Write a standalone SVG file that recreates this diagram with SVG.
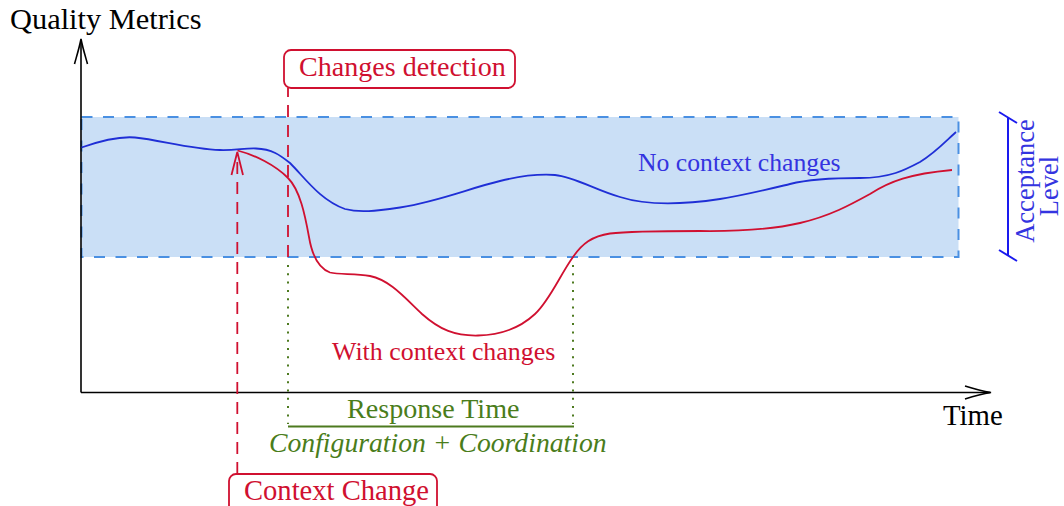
<svg xmlns="http://www.w3.org/2000/svg" width="1064" height="506" viewBox="0 0 1064 506">
  <style>
    .serif { font-family: "Liberation Serif", "Times New Roman", serif; }
    .axis { stroke: #000; stroke-width: 1.6; fill: none; }
    .red { stroke: #d01030; fill: none; }
    .redtxt { fill: #d01030; }
    .green { stroke: #4d7a1f; fill: none; }
    .greentxt { fill: #4a7d1b; }
    .bluetxt { fill: #3434e0; }
  </style>

  <rect width="1064" height="506" fill="#ffffff"/>

  <!-- acceptance band -->
  <g id="acceptance-band">
    <rect x="81.5" y="117" width="877" height="140" fill="#cadff6" stroke="#4a90e2" stroke-width="2" stroke-dasharray="11 10.5"/>
  </g>

  <!-- axes -->
  <g id="axes">
    <line class="axis" x1="81" y1="392.5" x2="81" y2="40"/>
    <path class="axis" d="M74.5,64 C77,55 79.5,47 81,39 C82.5,47 85,55 87.5,64"/>
    <line class="axis" x1="81" y1="392.5" x2="990" y2="392.5"/>
    <path class="axis" d="M965,386 C973,388.5 982,391 991,392.5 C982,394 973,396.5 965,399"/>
    <text class="serif" x="10" y="29" font-size="30.4">Quality Metrics</text>
    <text class="serif" x="943" y="425" font-size="28.8">Time</text>
  </g>

  <!-- curves -->
  <g id="curves">
    <path id="no-context-curve" fill="none" stroke="#1f2fd6" stroke-width="1.8"
      d="M81.5,147.5 C100,141 118,136 135,137.5 C160,140 190,149 220,150 C235,150.5 245,148 256,148.5 C272,149 280,155 290,163 C305,178 320,200 345,209 C360,213 375,211 400,207.5 C440,201 470,188 500,181 C520,176 540,174 555,175 C575,177 595,190 620,197 C645,205 680,205 720,199 C745,195 765,190 790,184 C810,179 830,178 860,178 C890,178 905,170 920,162 C935,153 946,141 956,132"/>
    <path id="with-context-curve" class="red" stroke-width="1.8"
      d="M237.5,150.5 C255,155 275,165 288,178 C300,190 305,215 309,237 C312,255 318,268 330,272.5 C340,275 355,273 370,276 C390,280 405,298 422,314 C440,330 455,336 478,335.5 C500,335 520,328 535,314 C550,300 560,275 573,257 C582,244 592,236 610,233.5 C630,231 660,231 700,231 C740,231.5 770,230 800,223 C830,216 850,205 870,194 C890,181 910,174 952,170"/>
    <text class="serif bluetxt" x="638" y="171" font-size="25.7">No context changes</text>
    <text class="serif redtxt" x="332" y="360" font-size="25.9">With context changes</text>
  </g>

  <!-- connectors -->
  <g id="connectors">
    <line class="red" stroke-width="1.8" stroke-dasharray="12 8" x1="237.3" y1="474" x2="237.3" y2="155"/>
    <path class="red" stroke-width="1.8" d="M231.5,175 C233.5,167 235.5,159 237.3,152 C239,159 241,167 243,175"/>
    <line class="red" stroke-width="1.8" stroke-dasharray="12 8" x1="288" y1="257" x2="288" y2="88"/>
    <line class="green" stroke-width="2" stroke-dasharray="2 6.3" x1="288" y1="265" x2="288" y2="424"/>
    <line class="green" stroke-width="2" stroke-dasharray="2 6.3" x1="573" y1="265" x2="573" y2="424"/>
    <line class="green" stroke-width="2" x1="288" y1="426.5" x2="574" y2="426.5"/>
  </g>

  <!-- response time labels -->
  <g id="response-time">
    <text class="serif greentxt" x="347" y="418" font-size="28.1">Response Time</text>
    <text class="serif greentxt" x="269" y="451.5" font-size="27.7" font-style="italic">Configuration + Coordination</text>
  </g>

  <!-- event boxes -->
  <g id="changes-detection">
    <rect x="284" y="50" width="231" height="38" rx="7" fill="#ffffff" stroke="#d01030" stroke-width="1.8"/>
    <text class="serif redtxt" x="299" y="76" font-size="28.1">Changes detection</text>
  </g>
  <g id="context-change">
    <rect x="229" y="474" width="208" height="50" rx="7" fill="#ffffff" stroke="#d01030" stroke-width="1.8"/>
    <text class="serif redtxt" x="244" y="500" font-size="28.6">Context Change</text>
  </g>

  <!-- acceptance level bracket -->
  <g id="acceptance-level">
    <g stroke="#1a1aee" stroke-width="2" fill="none">
      <line x1="1008" y1="117.5" x2="1008" y2="255.5"/>
      <line x1="999" y1="112" x2="1017" y2="123"/>
      <line x1="999" y1="250" x2="1017" y2="261"/>
    </g>
    <text class="serif bluetxt" font-size="26.5" text-anchor="middle" transform="translate(1034,181) rotate(-90)">Acceptance</text>
    <text class="serif bluetxt" font-size="26.5" text-anchor="middle" transform="translate(1058,186) rotate(-90)">Level</text>
  </g>
</svg>
